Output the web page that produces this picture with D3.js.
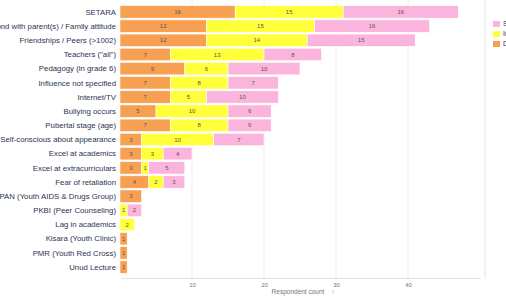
<!DOCTYPE html>
<html>
<head>
<meta charset="utf-8">
<script src="https://cdnjs.cloudflare.com/ajax/libs/d3/7.8.5/d3.min.js"></script>
<style>
  body { margin: 0; background: #fff; }
  svg { display: block; font-family: "Liberation Sans", Arial, sans-serif; }
</style>
</head>
<body>
<svg id="chart" width="506" height="300"></svg>
<script>
// categories (top to bottom)
var categories = [
    "SETARA",
    "Bad bond with parent(s) / Family attitude",
    "Friendships  / Peers (>1002)",
    "Teachers (\"all\")",
    "Pedagogy (in grade 6)",
    "Influence not specified",
    "Internet/TV",
    "Bullying occurs",
    "Pubertal stage (age)",
    "Self-conscious about appearance",
    "Excel at academics",
    "Excel at extracurriculars",
    "Fear of retaliation",
    "YPAN (Youth AIDS & Drugs Group)",
    "PKBI (Peer Counseling)",
    "Lag in academics",
    "Kisara (Youth Clinic)",
    "PMR (Youth Red Cross)",
    "Unud Lecture"
];

// series values, stacked left to right: D, I, S
var seriesD = [16, 12, 12, 7, 9, 7, 7, 5, 7, 3, 3, 3, 4, 3, 0, 0, 1, 1, 1];
var seriesI = [15, 15, 14, 13, 6, 8, 5, 10, 8, 10, 3, 1, 2, 0, 1, 2, 0, 0, 0];
var seriesS = [16, 16, 15, 8, 10, 7, 10, 6, 6, 7, 4, 5, 3, 0, 2, 0, 0, 0, 0];

var seriesNames = ["Driving", "Inhibiting", "Supporting"];
var legendOrder = ["Supporting", "Inhibiting", "Driving"];
var xTicks = [10, 20, 30, 40];

var colors = { "Driving": "#f7a052", "Inhibiting": "#ffff3a", "Supporting": "#fbb5dc" };

var svg = d3.select("#chart");

var rows = categories.map(function (c, i) {
    return { cat: c, "Driving": seriesD[i], "Inhibiting": seriesI[i], "Supporting": seriesS[i] };
});

var x = d3.scaleLinear().domain([0, 50]).range([120, 480]);
var y = d3.scaleBand().domain(categories).range([4, 275]).padding(0.12);

// grid
svg.append("g")
    .selectAll("line")
    .data(xTicks)
    .enter()
    .append("line")
    .attr("x1", function (d) { return x(d); })
    .attr("x2", function (d) { return x(d); })
    .attr("y1", 0)
    .attr("y2", 278)
    .attr("stroke", "#ececec")
    .attr("stroke-width", 1);

svg.append("line")
    .attr("x1", 485).attr("x2", 485)
    .attr("y1", 0).attr("y2", 278)
    .attr("stroke", "#e6e6e6");

// stacked bars
var stack = d3.stack().keys(seriesNames)(rows);

var layers = svg.append("g")
    .selectAll("g")
    .data(stack)
    .enter()
    .append("g")
    .attr("fill", function (d) { return colors[d.key]; });

layers.selectAll("rect")
    .data(function (d) { return d; })
    .enter()
    .filter(function (d) { return d[1] - d[0] > 0; })
    .append("rect")
    .attr("x", function (d) { return x(d[0]); })
    .attr("y", function (d) { return y(d.data.cat); })
    .attr("width", function (d) { return x(d[1]) - x(d[0]); })
    .attr("height", y.bandwidth())
    .attr("stroke", "#fff")
    .attr("stroke-width", 0.6);

layers.selectAll("text")
    .data(function (d) { return d; })
    .enter()
    .filter(function (d) { return d[1] - d[0] > 0; })
    .append("text")
    .attr("x", function (d) { return (x(d[0]) + x(d[1])) / 2; })
    .attr("y", function (d) { return y(d.data.cat) + y.bandwidth() / 2; })
    .attr("dy", "0.35em")
    .attr("text-anchor", "middle")
    .attr("font-size", "6px")
    .attr("fill", "#555")
    .text(function (d) { return d[1] - d[0]; });

// category labels
svg.append("g")
    .selectAll("text")
    .data(categories)
    .enter()
    .append("text")
    .attr("x", 116)
    .attr("y", function (d) { return y(d) + y.bandwidth() / 2; })
    .attr("dy", "0.35em")
    .attr("text-anchor", "end")
    .attr("font-size", "7.8px")
    .attr("fill", "#2a3550")
    .text(function (d) { return d; });

// x axis
var xAxis = d3.axisBottom(x).tickValues(xTicks).tickSize(0).tickPadding(5);
var ax = svg.append("g")
    .attr("transform", "translate(0,278)")
    .call(xAxis);
ax.select(".domain").attr("stroke", "#e3e3e3");
ax.selectAll("text").attr("font-size", "6px").attr("fill", "#777");

svg.append("text")
    .attr("x", 298)
    .attr("y", 294)
    .attr("text-anchor", "middle")
    .attr("font-size", "6.5px")
    .attr("fill", "#777")
    .text("Respondent count");
svg.append("text")
    .attr("x", 333)
    .attr("y", 294)
    .attr("text-anchor", "middle")
    .attr("font-size", "6.5px")
    .attr("fill", "#999")
    .text("↑");

// legend
var legend = svg.append("g")
    .selectAll("g")
    .data(legendOrder)
    .enter()
    .append("g")
    .attr("transform", function (d, i) { return "translate(493," + (21 + i * 10) + ")"; });

legend.append("rect")
    .attr("width", 7)
    .attr("height", 6)
    .attr("fill", function (d) { return colors[d]; });

legend.append("text")
    .attr("x", 10)
    .attr("y", 3)
    .attr("dy", "0.35em")
    .attr("font-size", "7px")
    .attr("fill", "#333")
    .text(function (d) { return d; });
</script>
</body>
</html>
